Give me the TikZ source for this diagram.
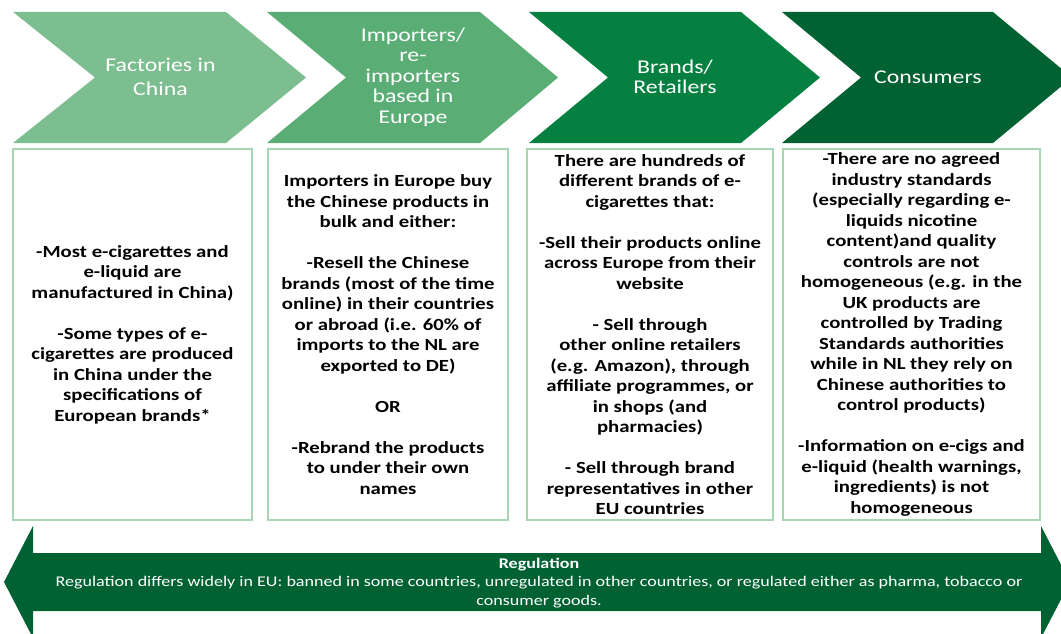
\documentclass[tikz,border=0pt]{standalone}
\usepackage{fontspec}
\setmainfont{Carlito}[FakeStretch=1.22]
\usepackage{tikz}
\definecolor{stageone}{RGB}{125,190,145}
\definecolor{stagetwo}{RGB}{91,173,118}
\definecolor{stagethree}{RGB}{6,128,64}
\definecolor{stagefour}{RGB}{0,98,50}
\definecolor{boxline}{RGB}{168,214,181}
\tikzstyle{stage} = [text=white, align=center, inner sep=0pt, font=\fontsize{19.5}{20.5}\selectfont]
\tikzstyle{infobox} = [rectangle, draw=boxline, line width=2pt, minimum height=371pt, align=center, inner sep=0pt, font=\bfseries\fontsize{17}{20.5}\selectfont]
\tikzstyle{banner} = [text=white, align=center, inner sep=0pt, font=\fontsize{14.8}{18.5}\selectfont]

\begin{document}
\begin{tikzpicture}[x=1pt, y=-1pt]
            \useasboundingbox (0,0) rectangle (1061,634);
            \fill [stageone] (13,12) -- (226,12) -- (306,77.5) -- (226,143) -- (13,143) -- (95,77.5) -- cycle;
            \fill [stagetwo] (267,12) -- (480,12) -- (558,77.5) -- (480,143) -- (267,143) -- (346,77.5) -- cycle;
            \fill [stagethree] (529,12) -- (741,12) -- (820,77.5) -- (741,143) -- (529,143) -- (608,77.5) -- cycle;
            \fill [stagefour] (782,12) -- (993,12) -- (1072,77.5) -- (993,143) -- (782,143) -- (861,77.5) -- cycle;

            \node (factories) [stage, font=\fontsize{19.5}{24}\selectfont] at (160.5,77) {Factories in\\China};
            \node (importers) [stage] at (413,77) {Importers/\\re-\\importers\\based in\\Europe};
            \node (brands) [stage] at (675,77) {Brands/\\Retailers};
            \node (consumers) [stage] at (928,77) {Consumers};

            \node (factories-box) [infobox, minimum width=239pt] at (132.5,334.5) {-Most e-cigarettes and\\e-liquid are\\manufactured in China)\\[20.5pt]-Some types of e-\\cigarettes are produced\\in China under the\\specifications of\\European brands*};
            \node (importers-box) [infobox, minimum width=240pt] at (388,334.5) {Importers in Europe buy\\the Chinese products in\\bulk and either:\\[20.5pt]-Resell the Chinese\\brands (most of the time\\online) in their countries\\or abroad (i.e. 60\% of\\imports to the NL are\\exported to DE)\\[20.5pt]OR\\[20.5pt]-Rebrand the products\\to under their own\\names};
            \node (brands-box) [infobox, minimum width=246pt] at (650,334.5) {There are hundreds of\\different brands of e-\\cigarettes that:\\[20.5pt]-Sell their products online\\across Europe from their\\website\\[20.5pt]- Sell through\\other online retailers\\(e.g. Amazon), through\\affiliate programmes, or\\in shops (and\\pharmacies)\\[20.5pt]- Sell through brand\\representatives in other\\EU countries};
            \node (consumers-box) [infobox, minimum width=257pt] at (911.5,334.5) {-There are no agreed\\industry standards\\(especially regarding e-\\liquids nicotine\\content)and quality\\controls are not\\homogeneous (e.g. in the\\UK products are\\controlled by Trading\\Standards authorities\\while in NL they rely on\\Chinese authorities to\\control products)\\[20.5pt]-Information on e-cigs and\\e-liquid (health warnings,\\ingredients) is not\\homogeneous};

            \fill [stagefour] (4,582) -- (33,526) -- (33,553) -- (1041,553) -- (1041,526) -- (1070,582) -- (1041,638) -- (1041,611) -- (33,611) -- (33,638) -- cycle;
            \node (regulation) [banner] at (539,583) {\textbf{Regulation}\\Regulation differs widely in EU: banned in some countries, unregulated in other countries, or regulated either as pharma, tobacco or\\consumer goods.};
        \end{tikzpicture}
\end{document}
